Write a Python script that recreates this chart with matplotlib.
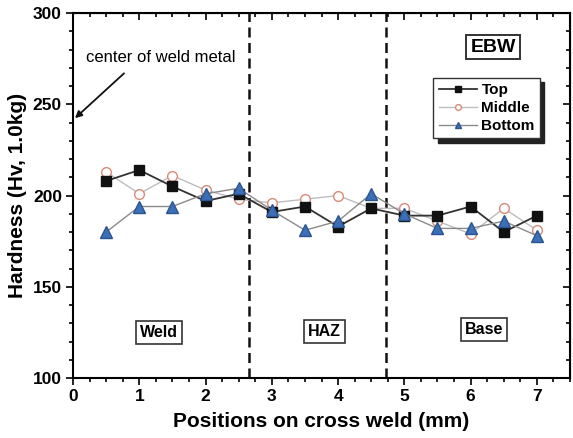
import matplotlib
matplotlib.use("Agg")
import matplotlib.pyplot as plt
from matplotlib.ticker import MultipleLocator

plt.rcParams['font.family'] = ['Liberation Sans', 'DejaVu Sans']
plt.rcParams['font.weight'] = 'bold'

positions = [0.5, 1.0, 1.5, 2.0, 2.5, 3.0, 3.5, 4.0, 4.5, 5.0, 5.5, 6.0, 6.5, 7.0]
top = [208, 214, 205, 197, 201, 191, 194, 183, 193, 189, 189, 194, 180, 189]
middle = [213, 201, 211, 203, 198, 196, 198, 200, 193, 193, 186, 179, 193, 181]
bottom = [180, 194, 194, 201, 204, 192, 181, 186, 201, 190, 182, 182, 186, 178]
boundaries = [2.66, 4.73]
regions = ["Weld", "HAZ", "Base"]
region_x = [1.30, 3.80, 6.20]
region_y = [125, 125.5, 126.5]

fig = plt.figure(figsize=(5.73, 4.38), dpi=100)
ax = fig.add_axes([0.1274, 0.137, 0.8674, 0.833])

ax.plot(positions, top, color='#333333', lw=1.3, marker='s', ms=7,
        mfc='#111111', mec='#111111', label='Top', zorder=4)
ax.plot(positions, middle, color='#bdbdbd', lw=1.0, marker='o', ms=7,
        mfc='white', mec='#d98a78', mew=1.0, label='Middle', zorder=3)
ax.plot(positions, bottom, color='#8a8a8a', lw=1.0, marker='^', ms=8,
        mfc='#3b6fb8', mec='#2c5590', label='Bottom', zorder=5)

for b in boundaries:
    ax.axvline(b, color='#111111', lw=1.8, ls=(0, (4, 2.2)), zorder=2)

ax.set_xlim(0, 7.5)
ax.set_ylim(100, 300)
ax.xaxis.set_major_locator(MultipleLocator(1))
ax.xaxis.set_minor_locator(MultipleLocator(0.25))
ax.yaxis.set_major_locator(MultipleLocator(50))
ax.yaxis.set_minor_locator(MultipleLocator(10))
ax.tick_params(which='both', direction='out', width=1.2, labelsize=12.5, pad=3)
ax.tick_params(which='major', length=5)
ax.tick_params(which='minor', length=3)
for lab in ax.get_xticklabels() + ax.get_yticklabels():
    lab.set_fontweight('bold')
for s in ax.spines.values():
    s.set_linewidth(1.5)

secx = ax.secondary_xaxis('top')
secx.xaxis.set_major_locator(MultipleLocator(1))
secx.xaxis.set_minor_locator(MultipleLocator(0.25))
secx.tick_params(which='both', direction='in', labeltop=False, width=1.2)
secx.tick_params(which='major', length=5)
secx.tick_params(which='minor', length=3)
secy = ax.secondary_yaxis('right')
secy.yaxis.set_major_locator(MultipleLocator(50))
secy.yaxis.set_minor_locator(MultipleLocator(10))
secy.tick_params(which='both', direction='in', labelright=False, width=1.2)
secy.tick_params(which='major', length=5)
secy.tick_params(which='minor', length=3)

ax.set_xlabel('Positions on cross weld (mm)', fontsize=15, fontweight='bold', labelpad=6)
ax.set_ylabel('Hardness (Hv, 1.0kg)', fontsize=15, fontweight='bold', labelpad=4)

for name, x, y in zip(regions, region_x, region_y):
    ax.text(x, y, name, ha='center', va='center', fontsize=11.5, fontweight='bold',
            bbox=dict(boxstyle='square,pad=0.25', fc='white', ec='#333333', lw=1.2))

ax.text(0.845, 0.907, 'EBW', transform=ax.transAxes, ha='center', va='center',
        fontsize=14, fontweight='bold',
        bbox=dict(boxstyle='square,pad=0.2', fc='white', ec='#333333', lw=1.4))

ax.text(0.2, 275.7, 'center of weld metal', fontsize=12, fontweight='normal',
        ha='left', va='center')
ax.annotate('', xy=(0.03, 242.4), xytext=(0.77, 267),
            arrowprops=dict(arrowstyle='-|>', color='#111111', lw=1.3,
                            shrinkA=0, shrinkB=0))

leg = ax.legend(loc='upper right', bbox_to_anchor=(0.94, 0.822), fontsize=11,
                frameon=True, fancybox=False,
                shadow=dict(ox=3, oy=-3, color='#222222', alpha=1.0),
                handlelength=2.5, borderpad=0.35, labelspacing=0.25,
                handletextpad=0.3, borderaxespad=0.0, markerscale=0.6)
leg.get_frame().set_edgecolor('#333333')
leg.get_frame().set_linewidth(1.0)
leg.get_frame().set_alpha(1.0)
for t in leg.get_texts():
    t.set_fontweight('bold')

fig.savefig('out.png', dpi=100)
